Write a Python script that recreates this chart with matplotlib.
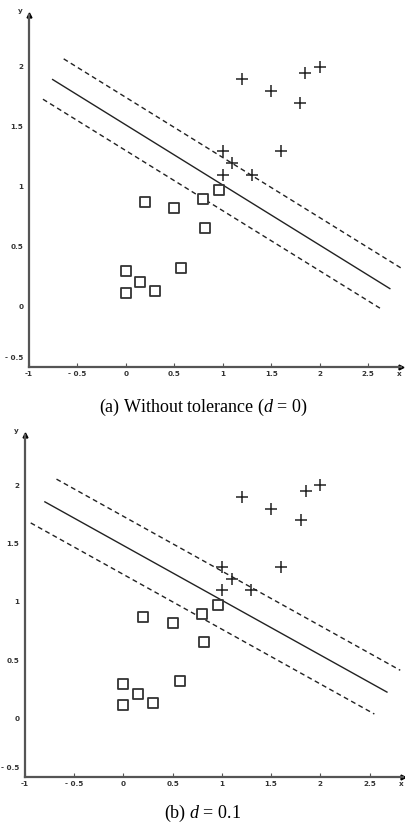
import matplotlib
matplotlib.use("Agg")
import matplotlib.pyplot as plt
import matplotlib.transforms as mtransforms
import numpy as np

plt.rcParams['mathtext.fontset'] = 'custom'
plt.rcParams['mathtext.rm'] = 'Liberation Serif'
plt.rcParams['mathtext.it'] = 'Liberation Serif:italic'

# class 1 (squares) and class 2 (pluses), same in both panels
sq_x = [0.0, 0.0, 0.15, 0.30, 0.57, 0.20, 0.50, 0.82, 0.80, 0.96]
sq_y = [0.30, 0.12, 0.21, 0.13, 0.32, 0.87, 0.82, 0.66, 0.90, 0.97]
pl_x = [1.0, 1.1, 1.0, 1.3, 1.2, 1.5, 1.6, 1.8, 1.85, 2.0]
pl_y = [1.3, 1.2, 1.1, 1.1, 1.9, 1.8, 1.3, 1.7, 1.95, 2.0]

# separating line and margins: slope, intercepts (mid, upper, lower), x spans
slope_a = -0.5
icpt_a = [1.515, 1.744, 1.301]
span_a = [(-0.756, 2.725), (-0.642, 2.852), (-0.856, 2.639)]

slope_b = -0.469
icpt_b = [1.483, 1.733, 1.235]
span_b = [(-0.798, 2.677), (-0.68, 2.812), (-0.942, 2.549)]

xticks = [-1, -0.5, 0, 0.5, 1, 1.5, 2, 2.5]
xlabels = ['-1', '- 0.5', '0', '0.5', '1', '1.5', '2', '2.5']
yticks = [-0.5, 0, 0.5, 1, 1.5, 2]
ylabels = ['- 0.5', '0', '0.5', '1', '1.5', '2']

captions = [r"(a) Without tolerance ($d$ = 0)", r"(b) $d$ = 0.1"]

W, H = 406, 832
fig = plt.figure(figsize=(W / 100, H / 100), dpi=100)

# axes boxes in pixels: left, top, right, bottom
boxes = [(29, 15, 401, 367), (25, 435, 403, 777)]
caption_y = [407, 813]
models = [(slope_a, icpt_a, span_a), (slope_b, icpt_b, span_b)]

axcol = '#555555'
for k, (l, t, r, b) in enumerate(boxes):
    ax = fig.add_axes([l / W, 1 - b / H, (r - l) / W, (b - t) / H])
    ax.set_xlim(-1, 2.84)
    ax.set_ylim(-0.5, 2.43)
    for s in ['top', 'right']:
        ax.spines[s].set_visible(False)
    for s in ['left', 'bottom']:
        ax.spines[s].set_color(axcol)
        ax.spines[s].set_linewidth(1.6)
    ax.plot(1, 0, '>', color='black', ms=3.5, transform=ax.transAxes, clip_on=False)
    ax.plot(0, 1, '^', color='black', ms=3.5, transform=ax.transAxes, clip_on=False)

    ax.set_xticks(xticks)
    ax.set_xticklabels(xlabels)
    ax.set_yticks(yticks)
    ax.set_yticklabels(ylabels)
    ax.tick_params(axis='x', direction='in', length=3, width=0.8, color=axcol,
                   labelsize=5.2, pad=3, labelcolor='#333333')
    ax.tick_params(axis='y', direction='in', length=0, labelsize=5.2, pad=4,
                   labelcolor='#333333')
    for lab in ax.get_xticklabels() + ax.get_yticklabels():
        lab.set_fontweight('bold')
    # lift the -0.5 label off the x axis
    off = mtransforms.ScaledTranslation(0, 9 / 100, fig.dpi_scale_trans)
    ylab0 = ax.get_yticklabels()[0]
    ylab0.set_transform(ylab0.get_transform() + off)

    ax.annotate('y', xy=(0, 1), xycoords='axes fraction', xytext=(-6, 1),
                textcoords='offset points', fontsize=5.2, fontweight='bold',
                color='#333333', ha='center', va='bottom')
    ax.annotate('x', xy=(1, 0), xycoords='axes fraction', xytext=(0.5, -3),
                textcoords='offset points', fontsize=5.2, fontweight='bold',
                color='#333333', ha='right', va='top')

    slope, icpts, spans = models[k]
    styles = ['-', (0, (3.5, 2.5)), (0, (3.5, 2.5))]
    for c, (x0, x1), ls in zip(icpts, spans, styles):
        xs = np.array([x0, x1])
        ax.plot(xs, c + slope * xs, color='#222222', lw=1.0, linestyle=ls)

    ax.scatter(sq_x, sq_y, marker='s', s=55, facecolor='white',
               edgecolor='#333333', linewidths=1.3, zorder=3)
    ax.scatter(pl_x, pl_y, marker='+', s=70, color='#222222',
               linewidths=1.1, zorder=3)

    fig.text(0.5, 1 - caption_y[k] / H, captions[k], ha='center', va='center',
             family='Liberation Serif', fontsize=13)

fig.savefig('out.png', dpi=100)
